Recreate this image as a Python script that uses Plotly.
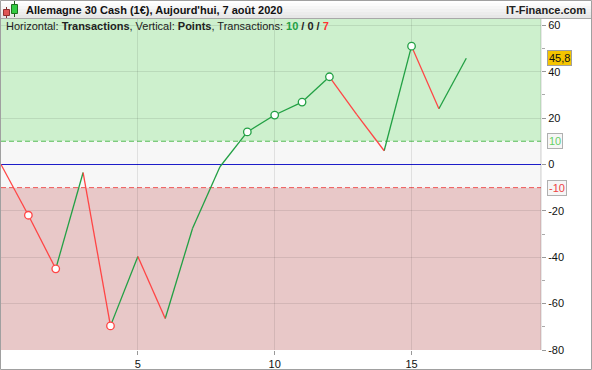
import plotly.graph_objects as go

# ---------------- data ----------------
transactions = list(range(18))
points = [0, -21.9, -45.0, -3.5, -69.6, -39.7, -66.4, -27.5, -1.0, 14.0,
          21.3, 26.9, 37.8, 21.5, 5.9, 51.0, 24.0, 45.8]
marker_idx = [1, 2, 4, 9, 10, 11, 12, 15]
y_ticks = [60, 40, 20, 0, -20, -40, -60, -80]
y_minor = [50, 30, -30, -50, -70]
x_ticks = [5, 10, 15]
last_label = "45,8"
title = "Allemagne 30 Cash (1€), Aujourd'hui, 7 août 2020"
brand = "IT-Finance.com"

GREEN = "#22a044"
RED = "#ff4545"
FONT = "Liberation Sans, Arial, sans-serif"

# figure geometry (pixels)
W, H = 592, 370
L, R, T, B = 1, 51, 19, 20
PW, PH = W - L - R, H - T - B


def px(x):
    return (x - L) / PW


def py(y):
    return (H - B - y) / PH


# ---------------- segments ----------------
gx, gy, rx, ry = [], [], [], []
for i in range(1, len(points)):
    if points[i] >= points[i - 1]:
        gx += [transactions[i - 1], transactions[i], None]
        gy += [points[i - 1], points[i], None]
    else:
        rx += [transactions[i - 1], transactions[i], None]
        ry += [points[i - 1], points[i], None]

fig = go.Figure()
fig.add_trace(go.Scatter(x=gx, y=gy, mode="lines", line=dict(color=GREEN, width=1.3),
                         hoverinfo="skip", showlegend=False))
fig.add_trace(go.Scatter(x=rx, y=ry, mode="lines", line=dict(color=RED, width=1.3),
                         hoverinfo="skip", showlegend=False))
mcol = [GREEN if points[i] >= points[i - 1] else RED for i in marker_idx]
fig.add_trace(go.Scatter(x=[transactions[i] for i in marker_idx],
                         y=[points[i] for i in marker_idx], mode="markers",
                         marker=dict(size=7.5, color="white", line=dict(color=mcol, width=1.3)),
                         hoverinfo="skip", showlegend=False))

YMIN, YMAX = -80, 62.7
shapes = [
    dict(type="rect", xref="paper", yref="y", x0=0, x1=1, y0=10, y1=YMAX,
         fillcolor="#cdf0cd", line_width=0, layer="below"),
    dict(type="rect", xref="paper", yref="y", x0=0, x1=1, y0=-10, y1=10,
         fillcolor="#f7f7f7", line_width=0, layer="below"),
    dict(type="rect", xref="paper", yref="y", x0=0, x1=1, y0=YMIN, y1=-10,
         fillcolor="#e8c8c8", line_width=0, layer="below"),
    dict(type="line", xref="paper", yref="y", x0=0, x1=1, y0=10, y1=10,
         line=dict(color="#55bb55", width=1, dash="5px,3px"), layer="between"),
    dict(type="line", xref="paper", yref="y", x0=0, x1=1, y0=-10, y1=-10,
         line=dict(color="#ee5555", width=1, dash="5px,3px"), layer="between"),
    dict(type="line", xref="paper", yref="y", x0=0, x1=1, y0=0, y1=0,
         line=dict(color="#2020dd", width=1.1), layer="between"),
    # right border of plot
    dict(type="line", xref="paper", yref="paper", x0=1, x1=1, y0=0, y1=1,
         line=dict(color="rgba(0,0,0,0.18)", width=1)),
]

# header gradient
hdr_cols = ["#ffffff", "#fbfbfb", "#f6f6f6", "#f1f1f1", "#ececec", "#e7e7e7"]
for k, c in enumerate(hdr_cols):
    shapes.append(dict(type="rect", xref="paper", yref="paper",
                       x0=px(0), x1=px(W), y0=py(k * 3), y1=py(k * 3 + 3),
                       fillcolor=c, line_width=0))
shapes.append(dict(type="line", xref="paper", yref="paper", x0=px(0), x1=px(W),
                   y0=py(18.5), y1=py(18.5), line=dict(color="#a8a8a8", width=1)))
# outer border
shapes.append(dict(type="rect", xref="paper", yref="paper", x0=px(0.5), x1=px(W - 0.5),
                   y0=py(0.5), y1=py(H - 0.5), line=dict(color="#a0a0a0", width=1),
                   fillcolor="rgba(0,0,0,0)"))
# candlestick icon
shapes += [
    dict(type="line", xref="paper", yref="paper", x0=px(6.5), x1=px(6.5), y0=py(7), y1=py(18),
         line=dict(color="#803030", width=1)),
    dict(type="rect", xref="paper", yref="paper", x0=px(3.5), x1=px(9.5), y0=py(9.5), y1=py(15.5),
         fillcolor="#e05555", line=dict(color="#903030", width=1)),
    dict(type="line", xref="paper", yref="paper", x0=px(14.5), x1=px(14.5), y0=py(1), y1=py(17),
         line=dict(color="#206020", width=1)),
    dict(type="rect", xref="paper", yref="paper", x0=px(11.5), x1=px(17.5), y0=py(4.5), y1=py(13.5),
         fillcolor="#33cc44", line=dict(color="#207020", width=1)),
]

annotations = [
    dict(xref="paper", yref="paper", x=px(24), y=py(9.5), xanchor="left", yanchor="middle",
         text="<b>" + title + "</b>", showarrow=False,
         font=dict(family=FONT, size=11, color="#111")),
    dict(xref="paper", yref="paper", x=px(588), y=py(9.5), xanchor="right", yanchor="middle",
         text="<b>" + brand + "</b>", showarrow=False,
         font=dict(family=FONT, size=11, color="#222")),
    dict(xref="paper", yref="paper", x=px(4), y=py(26.5), xanchor="left", yanchor="middle",
         text="Horizontal: <b>Transactions</b>, Vertical: <b>Points</b>, Transactions: "
              "<b><span style='color:#22a044'>10</span> / 0 / "
              "<span style='color:#ff3333'>7</span></b>",
         showarrow=False, font=dict(family=FONT, size=11, color="#222")),
    dict(xref="paper", yref="y", x=px(547), y=points[-1], xanchor="left", yanchor="middle",
         text=last_label, showarrow=False, bgcolor="#f5c400", bordercolor="#a0a0a0",
         borderwidth=1, borderpad=1, font=dict(family=FONT, size=11, color="#111")),
    dict(xref="paper", yref="y", x=px(547), y=10, xanchor="left", yanchor="middle",
         text="10", showarrow=False, bgcolor="#f6f6f6", bordercolor="#b0b0b0",
         borderwidth=1, borderpad=1, font=dict(family=FONT, size=11, color="#66d066")),
    dict(xref="paper", yref="y", x=px(547), y=-10, xanchor="left", yanchor="middle",
         text="-10", showarrow=False, bgcolor="#f6f6f6", bordercolor="#b0b0b0",
         borderwidth=1, borderpad=1, font=dict(family=FONT, size=11, color="#ee4444")),
]

fig.update_layout(
    width=W, height=H, margin=dict(l=L, r=R, t=T, b=B),
    paper_bgcolor="white", plot_bgcolor="white",
    shapes=shapes, annotations=annotations,
    font=dict(family=FONT, size=11, color="#111"),
    xaxis=dict(range=[0, 19.73], tickvals=x_ticks, ticktext=[str(v) for v in x_ticks],
               ticks="outside", ticklen=4, tickcolor="#999", showgrid=True,
               gridcolor="rgba(0,0,0,0.09)", zeroline=False, showline=False,
               tickfont=dict(family=FONT, size=11, color="#111")),
    yaxis=dict(range=[YMIN, YMAX], side="right", tickvals=y_ticks,
               ticktext=[str(v) for v in y_ticks], ticks="outside", ticklen=4,
               tickcolor="#999", showgrid=True, gridcolor="rgba(0,0,0,0.09)",
               zeroline=False, showline=False,
               minor=dict(tickmode="array", tickvals=y_minor, ticks="outside",
                          ticklen=3, tickcolor="#aaa", showgrid=False),
               tickfont=dict(family=FONT, size=11, color="#111")),
)

fig.write_html("out.html")
